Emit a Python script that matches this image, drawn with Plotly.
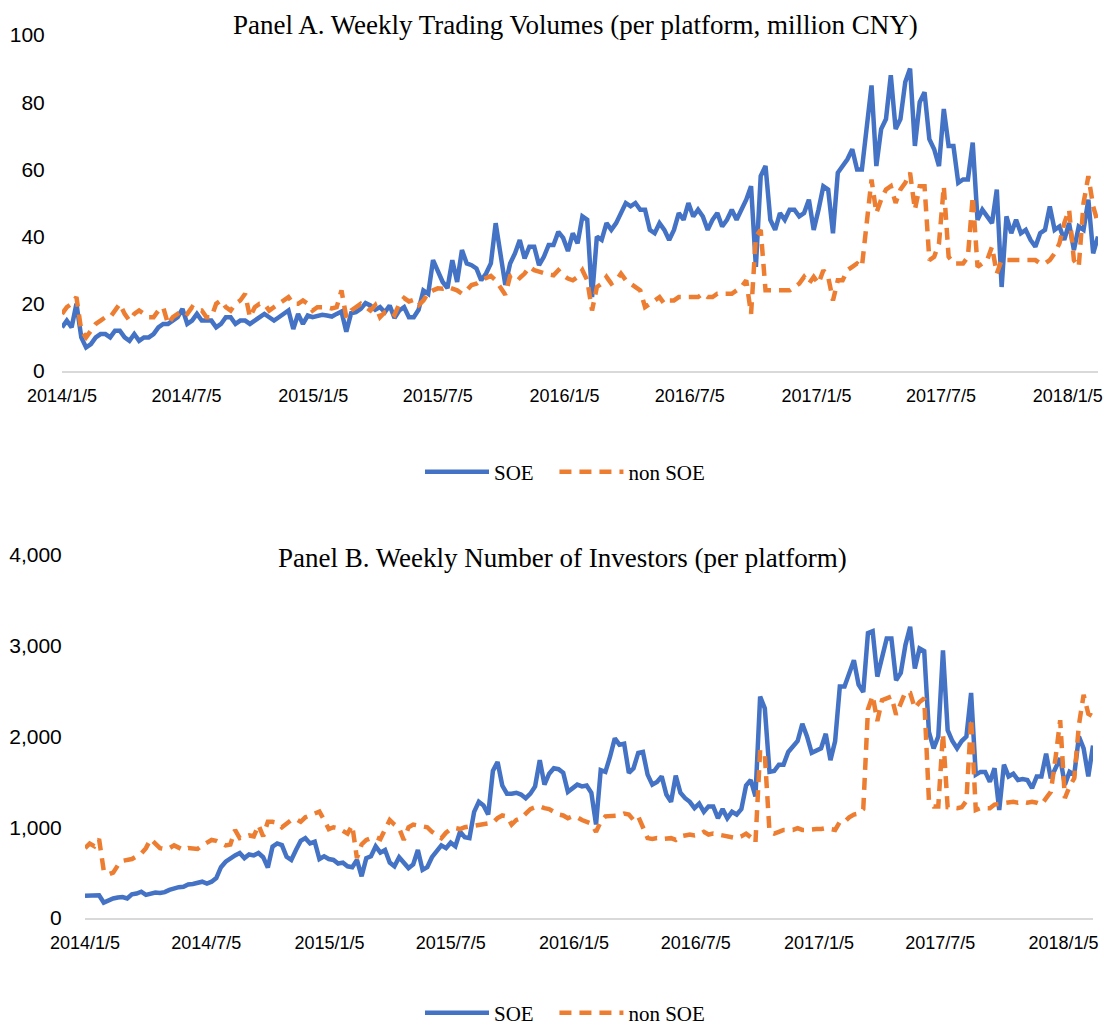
import pandas as pd
import plotly.graph_objects as go

START_DATE = "2014-01-05"

# Panel A: weekly trading volumes (million CNY)
vol_soe = [
    13, 15, 13, 20, 10, 7, 8, 10, 11, 11,
    10, 12, 12, 10, 9, 11, 9, 10, 10, 11,
    13, 14, 14, 15, 16, 18.5, 14, 15, 17, 15,
    15, 15, 13, 14, 16, 16, 14, 15, 15, 14,
    15, 16, 17, 16, 15, 16, 17, 18, 12.5, 17,
    14, 16.5, 16, 16.5, 16.7, 16.5, 16.2, 17, 17.7, 11.7,
    17.2, 17.5, 18.5, 20.2, 19.5, 18.2, 19, 17.5, 19.5, 15.8,
    18, 19, 16, 16, 18.2, 24, 23, 33, 30, 26.5,
    24.7, 33, 26.5, 36, 32, 31.5, 30.5, 27, 29, 32,
    44, 34, 25.6, 32, 35, 39, 33.5, 37, 37, 31.5,
    34, 37.5, 37.5, 41.4, 39.6, 35.7, 41, 38, 46, 45,
    22, 40, 39, 44, 42, 44, 47, 50, 49, 50,
    48, 48, 42, 41, 44, 42, 39, 42, 47, 45,
    50, 46, 48, 46, 42, 45, 47, 43, 45, 48,
    45, 48, 51, 55, 31, 58, 61, 45, 42, 47,
    45, 48, 48, 46, 47, 51, 42, 48, 55, 54,
    41, 59, 61, 63, 66, 60, 60, 72, 85, 61,
    72, 75, 88, 72, 75, 86, 90, 67, 80, 83,
    69, 66, 61, 78, 67, 67, 56, 57, 57, 68,
    45, 48, 46, 44, 54, 25, 46, 41, 45, 41,
    42, 39, 37, 41, 42, 49, 42, 43, 39, 44,
    36, 43, 42, 51, 35, 40,
]
vol_non_soe = [
    17, 19, 20, 22, 12, 10, 12, 14, 15, 16,
    16, 18, 20, 17, 15, 17, 18, 17, 16, 16,
    18, 19, 14, 16, 17, 18, 17, 19, 18, 18,
    16, 16, 20, 21, 19, 18, 20, 21, 23, 16,
    19, 20, 20, 18, 19, 20, 21, 22, 20, 20,
    21, 20, 18, 19, 19, 19, 18.6, 19, 24, 16,
    18, 19, 20, 19, 18, 19.6, 16, 17.5, 18, 16.7,
    20, 21.7, 20.7, 21.2, 19.6, 21, 23.2, 24, 24.6, 24.5,
    25, 24.5, 24, 23, 24, 25.6, 26, 27, 27.5, 28.3,
    27, 25, 22.7, 28.3, 29, 27.7, 29, 31, 30, 29.6,
    29, 28.7, 28.5, 30, 28.5, 27.5, 27, 28, 30, 27,
    18, 25, 26, 28, 26, 27, 29, 27, 26, 25,
    24, 19, 20, 21, 22, 20, 21, 21, 22, 22,
    22, 22, 22, 23, 22, 22, 23, 23, 23, 23,
    24, 25, 27, 17, 40, 42, 24, 24, 24, 24,
    24, 24, 25, 26, 28, 26, 28, 26, 30, 28,
    21, 27, 27, 30, 31, 32, 31, 44, 57, 47,
    51, 54, 55, 50, 54, 56, 59, 48, 55, 55,
    33, 34, 38, 55, 34, 32, 32, 32, 34, 52,
    31, 32, 33, 37, 29, 33, 33, 33, 33, 33,
    33, 33, 33, 32, 32, 33, 35, 38, 44, 48,
    33, 31, 50, 58, 49, 44,
]

# Panel B: weekly number of investors
inv_soe = [
    245, 245, 245, 250, 170, 195, 215, 225, 230, 215,
    260, 270, 290, 255, 270, 280, 275, 285, 310, 330,
    340, 345, 370, 375, 390, 400, 380, 400, 440, 560,
    620, 660, 690, 716, 660, 700, 690, 716, 670, 555,
    786, 822, 804, 675, 640, 750, 850, 880, 822, 840,
    650, 680, 650, 640, 600, 610, 570, 560, 640, 460,
    660, 680, 790, 720, 750, 610, 570, 670, 600, 550,
    590, 750, 530, 560, 670, 730, 800, 770, 830, 790,
    950, 890, 880, 1170, 1280, 1240, 1140, 1620, 1720, 1460,
    1370, 1370, 1380, 1360, 1320, 1370, 1450, 1740, 1470, 1590,
    1650, 1640, 1600, 1390, 1430, 1470, 1450, 1460, 1380, 1030,
    1630, 1610, 1780, 1980, 1910, 1920, 1600, 1650, 1820, 1830,
    1580, 1470, 1500, 1560, 1360, 1280, 1570, 1380, 1320, 1280,
    1210, 1260, 1170, 1230, 1230, 1100, 1200, 1100, 1170, 1140,
    1200, 1460, 1520, 1340, 2440, 2310, 1610, 1620, 1690, 1690,
    1830, 1900, 1950, 2140, 2000, 1820, 1850, 1870, 2030, 1740,
    1950, 2550, 2550, 2680, 2840, 2570, 2490, 3140, 3160, 2660,
    2860, 3080, 3080, 2620, 2700, 3010, 3210, 2750, 2970, 2940,
    2050, 1870, 2000, 2950, 2070, 1950, 1870, 1950, 2000, 2480,
    1580, 1610, 1610, 1500, 1650, 1190, 1690, 1560, 1590, 1520,
    1530, 1520, 1430, 1560, 1560, 1810, 1540, 1640, 1760, 1470,
    1610, 1580, 2000, 1870, 1560, 1900,
]
inv_non_soe = [
    770, 820, 790, 870, 520, 480, 500, 580, 630, 640,
    650, 680, 710, 770, 870, 820, 770, 760, 770, 800,
    780, 750, 770, 760, 760, 800, 830, 860, 850, 820,
    800, 810, 970, 880, 900, 910, 900, 1025, 900, 1061,
    1060, 1050, 1000, 1040, 1080, 1090, 1060, 1110, 1130, 1153,
    1172, 1080, 980, 1000, 990, 960, 930, 1020, 660, 810,
    860, 880, 890, 870, 980, 1080, 1030, 990, 860, 1000,
    1030, 1020, 1000, 1000, 950, 920, 880, 940, 980, 990,
    980, 1000, 1010, 1020, 1020, 1030, 1040, 1050, 1100, 1130,
    1120, 1030, 1080, 1100, 1150, 1200, 1220, 1230, 1210, 1200,
    1170, 1140, 1130, 1100, 1120, 1110, 1080, 1060, 1040, 950,
    1060, 1120, 1120, 1120, 1130, 1150, 1140, 1080, 1120, 1000,
    880, 870, 880, 870, 870, 880, 860, 900, 910, 920,
    910, 920, 950, 920, 930, 920, 910, 900, 890, 880,
    900, 930, 890, 830, 1850, 1800, 950, 930, 950, 970,
    970, 970, 990, 970, 970, 980, 980, 980, 990, 980,
    970, 1060, 1060, 1110, 1140, 1150, 1200, 2300, 2450, 2170,
    2400, 2420, 2440, 2240, 2360, 2490, 2480, 2310, 2380, 2420,
    1300, 1230, 1230, 2030, 1220, 1210, 1210, 1220, 1290, 2200,
    1190, 1210, 1210, 1210, 1250, 1260, 1270, 1280, 1280, 1270,
    1280, 1270, 1280, 1270, 1250, 1320, 1390, 1760, 2180, 1320,
    1450, 1540, 2130, 2460, 2250, 2220,
]

series_names = ["SOE", "non SOE"]

tick_dates = ["2014-01-05", "2014-07-05", "2015-01-05", "2015-07-05", "2016-01-05",
              "2016-07-05", "2017-01-05", "2017-07-05", "2018-01-05"]
tick_labels = ["2014/1/5", "2014/7/5", "2015/1/5", "2015/7/5", "2016/1/5",
               "2016/7/5", "2017/1/5", "2017/7/5", "2018/1/5"]

weeks_a = pd.date_range(START_DATE, periods=len(vol_soe), freq="7D")
weeks_b = pd.date_range(START_DATE, periods=len(inv_soe), freq="7D")

BLUE = "#4472C4"
ORANGE = "#ED7D31"
SERIF = "Liberation Serif, Times New Roman, serif"
SANS = "Liberation Sans, Arial, sans-serif"
W, H = 1104, 1028
PAD = "\u00a0\u00a0\u00a0"  # spacing after the first legend entry

fig = go.Figure()
fig.add_trace(go.Scatter(x=weeks_a, y=vol_soe, name=series_names[0] + PAD, mode="lines",
                         line=dict(color=BLUE, width=4.5), xaxis="x", yaxis="y", legend="legend"))
fig.add_trace(go.Scatter(x=weeks_a, y=vol_non_soe, name=series_names[1], mode="lines",
                         line=dict(color=ORANGE, width=4.5, dash="12px,8px"), xaxis="x", yaxis="y",
                         legend="legend"))
fig.add_trace(go.Scatter(x=weeks_b, y=inv_soe, name=series_names[0] + PAD, mode="lines",
                         line=dict(color=BLUE, width=4.5), xaxis="x2", yaxis="y2", legend="legend2"))
fig.add_trace(go.Scatter(x=weeks_b, y=inv_non_soe, name=series_names[1], mode="lines",
                         line=dict(color=ORANGE, width=4.5, dash="12px,8px"), xaxis="x2", yaxis="y2",
                         legend="legend2"))

xcommon = dict(type="date", tickvals=tick_dates, ticktext=tick_labels, showgrid=False,
               showline=True, linecolor="#d9d9d9", linewidth=1.5, zeroline=False,
               ticks="outside", ticklen=8, tickcolor="rgba(0,0,0,0)", automargin=False,
               tickfont=dict(family=SANS, size=18, color="#000"))
ycommon = dict(showgrid=False, zeroline=False, showline=False, ticks="outside", automargin=False,
               tickcolor="rgba(0,0,0,0)", tickfont=dict(family=SANS, size=21, color="#000"))

legend_common = dict(orientation="h", xanchor="center", yanchor="middle", itemwidth=64,
                     font=dict(family=SERIF, size=21, color="#000"), bgcolor="rgba(0,0,0,0)")

fig.update_layout(
    width=W, height=H,
    margin=dict(l=0, r=0, t=0, b=0, autoexpand=False),
    paper_bgcolor="white", plot_bgcolor="white",
    xaxis=dict(xcommon, domain=[62 / W, 1098 / W], anchor="y",
               range=[weeks_a[0], weeks_a[-1]]),
    yaxis=dict(ycommon, domain=[1 - 371 / H, 1 - 35 / H], anchor="x",
               range=[0, 100], tickvals=[0, 20, 40, 60, 80, 100], ticklen=12),
    xaxis2=dict(xcommon, domain=[85 / W, 1093 / W], anchor="y2",
                range=[weeks_b[0], weeks_b[-1]]),
    yaxis2=dict(ycommon, domain=[1 - 918 / H, 1 - 555 / H], anchor="x2",
                range=[0, 4000], tickvals=[0, 1000, 2000, 3000, 4000],
                tickformat=",d", ticklen=18),
    legend=dict(legend_common, x=565 / W, y=1 - 472 / H),
    legend2=dict(legend_common, x=565 / W, y=1 - 1013 / H),
    annotations=[
        dict(text="Panel A. Weekly Trading Volumes (per platform, million CNY)",
             x=575 / W, y=1 - 25 / H, xref="paper", yref="paper", showarrow=False,
             xanchor="center", yanchor="middle",
             font=dict(family=SERIF, size=27, color="#000")),
        dict(text="Panel B. Weekly Number of Investors (per platform)",
             x=562 / W, y=1 - 558 / H, xref="paper", yref="paper", showarrow=False,
             xanchor="center", yanchor="middle",
             font=dict(family=SERIF, size=27, color="#000")),
    ],
    showlegend=True,
)

fig.write_html("out.html", config={"displayModeBar": False},
               post_script="document.body.style.margin='0';document.body.style.padding='0';")
